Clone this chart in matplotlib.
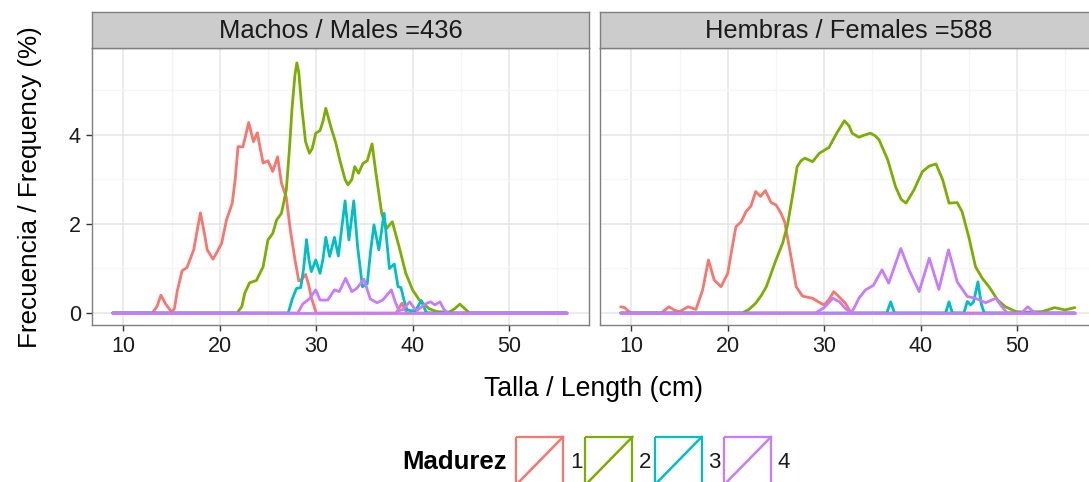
import numpy as np
import matplotlib
matplotlib.use('Agg')
import matplotlib.pyplot as plt
from matplotlib.patches import Rectangle
from matplotlib.ticker import MultipleLocator

plt.rcParams['font.family'] = ['Liberation Sans', 'DejaVu Sans']

# ---- datos: talla (cm) y frecuencia (%) ----
madurez = ['1', '2', '3', '4']
colores = ['#F8766D', '#7CAE00', '#00BFC4', '#C77CFF']
paneles = ['Machos / Males =436', 'Hembras / Females =588']
rango_talla = [8.9, 56.0]   # linea base (frecuencia 0) de todo el rango

# machos
m1_x = [8.9, 13.0, 13.5, 13.9, 14.4, 15.0, 15.3, 15.6, 16.1, 16.6, 17.3, 17.7, 18.0, 18.4, 18.7, 19.3, 19.8, 20.2,
        20.7, 21.3, 21.6, 21.9, 22.4, 22.7, 23.0, 23.5, 23.9, 24.2, 24.5, 25.0, 25.5, 26.0, 26.4, 26.9, 27.3, 27.8,
        28.2, 28.5, 28.9, 29.2, 29.5, 30.0, 38.3, 38.9, 39.4, 56.0]
m1_y = [0, 0, 0.15, 0.40, 0.2, 0.02, 0.1, 0.5, 0.95, 1.02, 1.42, 1.9, 2.25, 1.8, 1.42, 1.21, 1.4, 1.57,
        2.09, 2.47, 3.0, 3.74, 3.73, 4.0, 4.28, 3.85, 4.05, 3.7, 3.37, 3.42, 3.18, 3.51, 2.92, 2.6, 1.9, 1.2,
        0.72, 0.75, 0.87, 0.65, 0.35, 0, 0, 0.22, 0, 0]
m2_x = [8.9, 21.8, 22.3, 22.6, 23.1, 23.8, 24.5, 25.0, 25.5, 25.9, 26.4, 26.9, 27.2, 27.5, 27.8, 28.0, 28.2, 28.5,
        28.9, 29.3, 29.6, 29.96, 30.4, 30.7, 31.0, 31.5, 32.0, 32.5, 33.0, 33.3, 33.7, 34.0, 34.4, 34.85, 35.3,
        35.8, 36.2, 36.8, 37.3, 37.9, 38.6, 39.3, 40.0, 40.7, 41.7, 42.5, 43.8, 44.4, 44.9, 45.4, 45.9, 56.0]
m2_y = [0, 0, 0.15, 0.45, 0.68, 0.73, 1.04, 1.64, 1.79, 2.09, 2.24, 2.76, 3.6, 4.6, 5.35, 5.62, 5.4, 4.64,
        3.85, 3.59, 3.7, 4.04, 4.10, 4.3, 4.6, 4.2, 3.85, 3.4, 3.0, 2.88, 3.0, 3.29, 3.14, 3.36, 3.42,
        3.8, 3.14, 2.24, 1.9, 2.05, 1.49, 0.89, 0.52, 0.29, 0.1, 0.03, 0.02, 0.1, 0.2, 0.1, 0, 0]
m3_x = [8.9, 27.1, 27.5, 27.95, 28.4, 28.7, 29.0, 29.25, 29.5, 29.96, 30.4, 30.7, 31.0, 31.4, 31.9, 32.3, 32.65,
        33.0, 33.4, 33.9, 34.3, 34.8, 35.3, 35.65, 36.0, 36.5, 37.05, 37.6, 38.1, 38.5, 38.8, 39.1, 39.4, 39.8,
        40.3, 40.9, 41.4, 41.6, 56.0]
m3_y = [0, 0, 0.3, 0.55, 0.57, 1.0, 1.65, 1.2, 0.93, 1.19, 0.89, 1.2, 1.70, 1.27, 1.70, 1.28, 1.9,
        2.52, 1.64, 2.52, 1.49, 0.59, 0.66, 1.4, 1.98, 1.42, 2.24, 1.0, 1.1, 0.59, 0.57, 0.3, 0.08, 0.05,
        0.05, 0.28, 0.02, 0, 0]
m4_x = [8.9, 28.1, 28.6, 29.3, 29.96, 30.4, 31.2, 31.9, 32.4, 33.05, 33.7, 34.2, 34.96, 35.6, 36.3, 36.9, 37.8,
        38.2, 38.6, 39.0, 39.7, 40.2, 40.5, 41.0, 41.5, 41.9, 42.3, 42.85, 43.2, 43.6, 56.0]
m4_y = [0, 0, 0.2, 0.32, 0.52, 0.29, 0.29, 0.52, 0.48, 0.78, 0.48, 0.55, 0.76, 0.32, 0.23, 0.29, 0.52,
        0.25, 0.05, 0.08, 0.25, 0.1, 0.06, 0.15, 0.22, 0.25, 0.18, 0.25, 0.1, 0, 0]

# hembras
h1_x = [8.9, 9.3, 9.7, 10.0, 13.1, 13.9, 14.5, 15.0, 15.9, 16.7, 17.4, 18.0, 18.6, 19.3, 20.0, 20.4, 20.85, 21.4,
        21.9, 22.4, 22.9, 23.4, 23.9, 24.5, 25.0, 25.5, 25.9, 26.5, 27.1, 27.75, 28.8, 29.4, 30.0, 30.5, 31.0,
        31.6, 32.2, 32.8, 56.0]
h1_y = [0.14, 0.12, 0.04, 0, 0, 0.14, 0.06, 0.03, 0.14, 0.08, 0.52, 1.19, 0.74, 0.59, 0.89, 1.4, 1.94, 2.05,
        2.28, 2.40, 2.73, 2.62, 2.75, 2.48, 2.43, 2.25, 2.05, 1.34, 0.59, 0.38, 0.33, 0.25, 0.18, 0.3, 0.48,
        0.35, 0.22, 0, 0]
h2_x = [8.9, 21.5, 22.2, 22.9, 23.5, 24.0, 25.0, 25.7, 26.2, 26.7, 27.2, 27.6, 28.0, 28.8, 29.5, 30.5, 31.3, 32.1,
        32.6, 32.9, 33.6, 34.2, 34.8, 35.3, 35.7, 36.6, 37.4, 38.0, 38.5, 39.3, 40.2, 40.9, 41.6, 42.3, 42.95,
        43.8, 44.3, 45.0, 45.7, 46.4, 47.1, 48.0, 48.8, 49.9, 50.9, 52.6, 53.9, 55.0, 56.0]
h2_y = [0, 0, 0.08, 0.22, 0.4, 0.59, 1.19, 1.57, 1.98, 2.61, 3.29, 3.42, 3.48, 3.40, 3.59, 3.72, 4.04, 4.32,
        4.2, 4.04, 3.95, 4.0, 4.04, 3.98, 3.89, 3.44, 2.84, 2.55, 2.47, 2.76, 3.18, 3.3, 3.35, 2.99, 2.47,
        2.48, 2.28, 1.71, 1.04, 0.78, 0.59, 0.29, 0.14, 0.03, 0.02, 0.03, 0.12, 0.07, 0.12]
h3_x = [8.9, 36.5, 36.9, 37.3, 42.6, 42.95, 43.3, 44.5, 44.85, 45.2, 45.5, 45.95, 46.3, 46.6, 56.0]
h3_y = [0, 0, 0.25, 0, 0, 0.25, 0, 0, 0.26, 0.18, 0.25, 0.70, 0.2, 0, 0]
h4_x = [8.9, 29.1, 30.0, 30.9, 31.6, 32.2, 32.8, 33.2, 33.6, 34.3, 35.1, 36.0, 36.7, 37.95, 38.8, 39.85, 40.9,
        41.9, 42.9, 43.8, 44.85, 45.7, 46.75, 47.8, 48.4, 49.0, 50.5, 51.1, 51.7, 52.0, 56.0]
h4_y = [0, 0, 0.12, 0.33, 0.25, 0.1, 0, 0.15, 0.33, 0.52, 0.62, 0.97, 0.67, 1.45, 0.97, 0.48, 1.23,
        0.53, 1.42, 0.70, 0.37, 0.33, 0.23, 0.33, 0.15, 0, 0, 0.14, 0.03, 0, 0]

machos = [(m1_x, m1_y), (m2_x, m2_y), (m3_x, m3_y), (m4_x, m4_y)]
hembras = [(h1_x, h1_y), (h2_x, h2_y), (h3_x, h3_y), (h4_x, h4_y)]

# ---- figura (pixeles -> fraccion) ----
W, H = 1089, 482
fig = plt.figure(figsize=(W / 100, H / 100), dpi=100)
def px(x0, y0, x1, y1):   # caja en pixeles (arriba-izquierda) a coordenadas de figura
    return [x0 / W, 1 - y1 / H, (x1 - x0) / W, (y1 - y0) / H]

grid_major = '#E5E5E5'
grid_minor = '#F5F5F5'
borde = '#7F7F7F'

lefts = [92, 600]
for k, (left, datos, titulo) in enumerate(zip(lefts, [machos, hembras], paneles)):
    ax = fig.add_axes(px(left, 48, left + 497, 325))
    for (x, y), c in zip(datos, colores):
        ax.plot(x, y, color=c, lw=2.0, solid_joinstyle='round', solid_capstyle='round')
    ax.plot(rango_talla, [0, 0], color=colores[3], lw=2.0, solid_capstyle='round')
    ax.set_xlim(6.75, 58.3)
    ax.set_ylim(-0.27, 5.955)
    ax.xaxis.set_major_locator(MultipleLocator(10))
    ax.xaxis.set_minor_locator(MultipleLocator(5))
    ax.yaxis.set_major_locator(MultipleLocator(2))
    ax.yaxis.set_minor_locator(MultipleLocator(1))
    ax.grid(which='major', color=grid_major, lw=1.1)
    ax.grid(which='minor', color=grid_minor, lw=1.0)
    ax.set_axisbelow(True)
    for s in ax.spines.values():
        s.set_color(borde)
        s.set_linewidth(1.0)
    ax.tick_params(which='major', length=4, width=1.0, color='#333333', labelsize=15.5,
                   labelcolor='#1A1A1A', pad=4)
    ax.tick_params(which='minor', length=0)
    if k == 1:
        ax.set_yticklabels([])
        ax.tick_params(axis='y', length=0)
    # tira del panel
    st = fig.add_axes(px(left, 12, left + 497, 48))
    st.set_facecolor('#CCCCCC')
    st.set_xticks([]); st.set_yticks([])
    for s in st.spines.values():
        s.set_color(borde)
        s.set_linewidth(1.0)
    st.text(0.5, 0.47, titulo, ha='center', va='center', fontsize=18.4, color='#1A1A1A',
            transform=st.transAxes)

fig.text(30 / W, 1 - 187 / H, 'Frecuencia / Frequency (%)', rotation=90, ha='center', va='center',
         fontsize=18.8, color='black')
fig.text(594 / W, 1 - 389 / H, 'Talla / Length (cm)', ha='center', va='center', fontsize=19.2, color='black')

# ---- leyenda (capa en pixeles) ----
lg = fig.add_axes([0, 0, 1, 1])
lg.set_xlim(0, W)
lg.set_ylim(H, 0)
lg.axis('off')
lg.patch.set_alpha(0)
lg.text(402, 462, 'Madurez', ha='left', va='center', fontsize=18.5, fontweight='bold', color='black')
for i, (lab, c) in enumerate(zip(madurez, colores)):
    x0 = 516 + i * 69.3
    lg.add_patch(Rectangle((x0, 437), 47, 48, fill=False, edgecolor=c, lw=1.6, clip_on=False))
    lg.plot([x0, x0 + 47], [485, 437], color=c, lw=1.8, clip_on=False)
    lg.text(x0 + 54, 462, lab, ha='left', va='center', fontsize=16, color='#1A1A1A')

fig.savefig('out.png', dpi=100)
